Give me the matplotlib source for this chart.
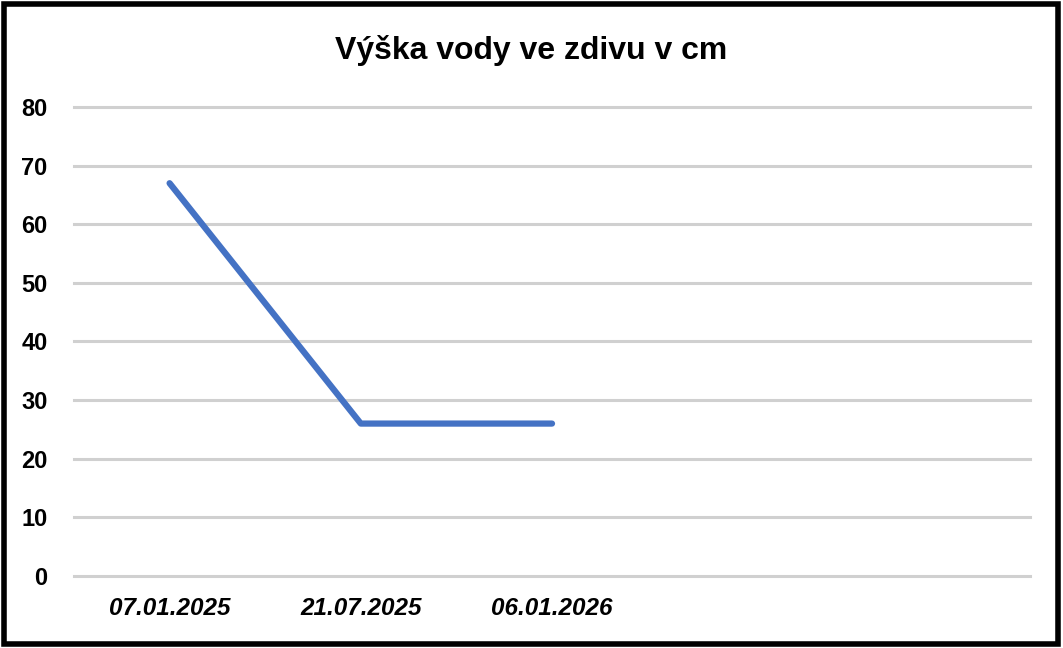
import matplotlib
matplotlib.use("Agg")
import matplotlib.pyplot as plt
from matplotlib.patches import Rectangle

plt.rcParams["font.family"] = ["Liberation Sans", "DejaVu Sans"]

# Data
dates = ["07.01.2025", "21.07.2025", "06.01.2026", "", ""]
water_height = [67, 26, 26]
y_ticks = [0, 10, 20, 30, 40, 50, 60, 70, 80]

fig = plt.figure(figsize=(10.63, 6.48), dpi=100)
ax = fig.add_axes([0.0696, 0.1111, 0.8994, 0.7238])

x = list(range(len(dates)))
ax.plot(x[: len(water_height)], water_height, color="#4472C4", linewidth=4.5,
        solid_capstyle="round", solid_joinstyle="round", zorder=3)

ax.set_xlim(-0.5, len(dates) - 0.5)
ax.set_ylim(0, 80)
ax.set_yticks(y_ticks)
ax.set_xticks(x)
ax.set_xticklabels(dates, fontsize=17.5, fontweight="bold", fontstyle="italic")
ax.set_yticklabels([str(t) for t in y_ticks], fontsize=17, fontweight="bold")
ax.tick_params(axis="both", length=0)
ax.tick_params(axis="x", pad=15)
ax.tick_params(axis="y", pad=19)

ax.grid(axis="y", color="#d0d0d0", linewidth=2.2)
for gl in ax.get_ygridlines():
    gl.set_clip_on(False)
ax.set_axisbelow(True)
for s in ax.spines.values():
    s.set_visible(False)

fig.text(0.5, 0.922, "Výška vody ve zdivu v cm", ha="center", va="center",
         fontsize=23, fontweight="bold")

# outer chart border
fig.patches.append(Rectangle((0.004, 0.006), 0.991, 0.988, transform=fig.transFigure,
                             fill=False, edgecolor="black", linewidth=4))

fig.savefig("out.png", dpi=100)
